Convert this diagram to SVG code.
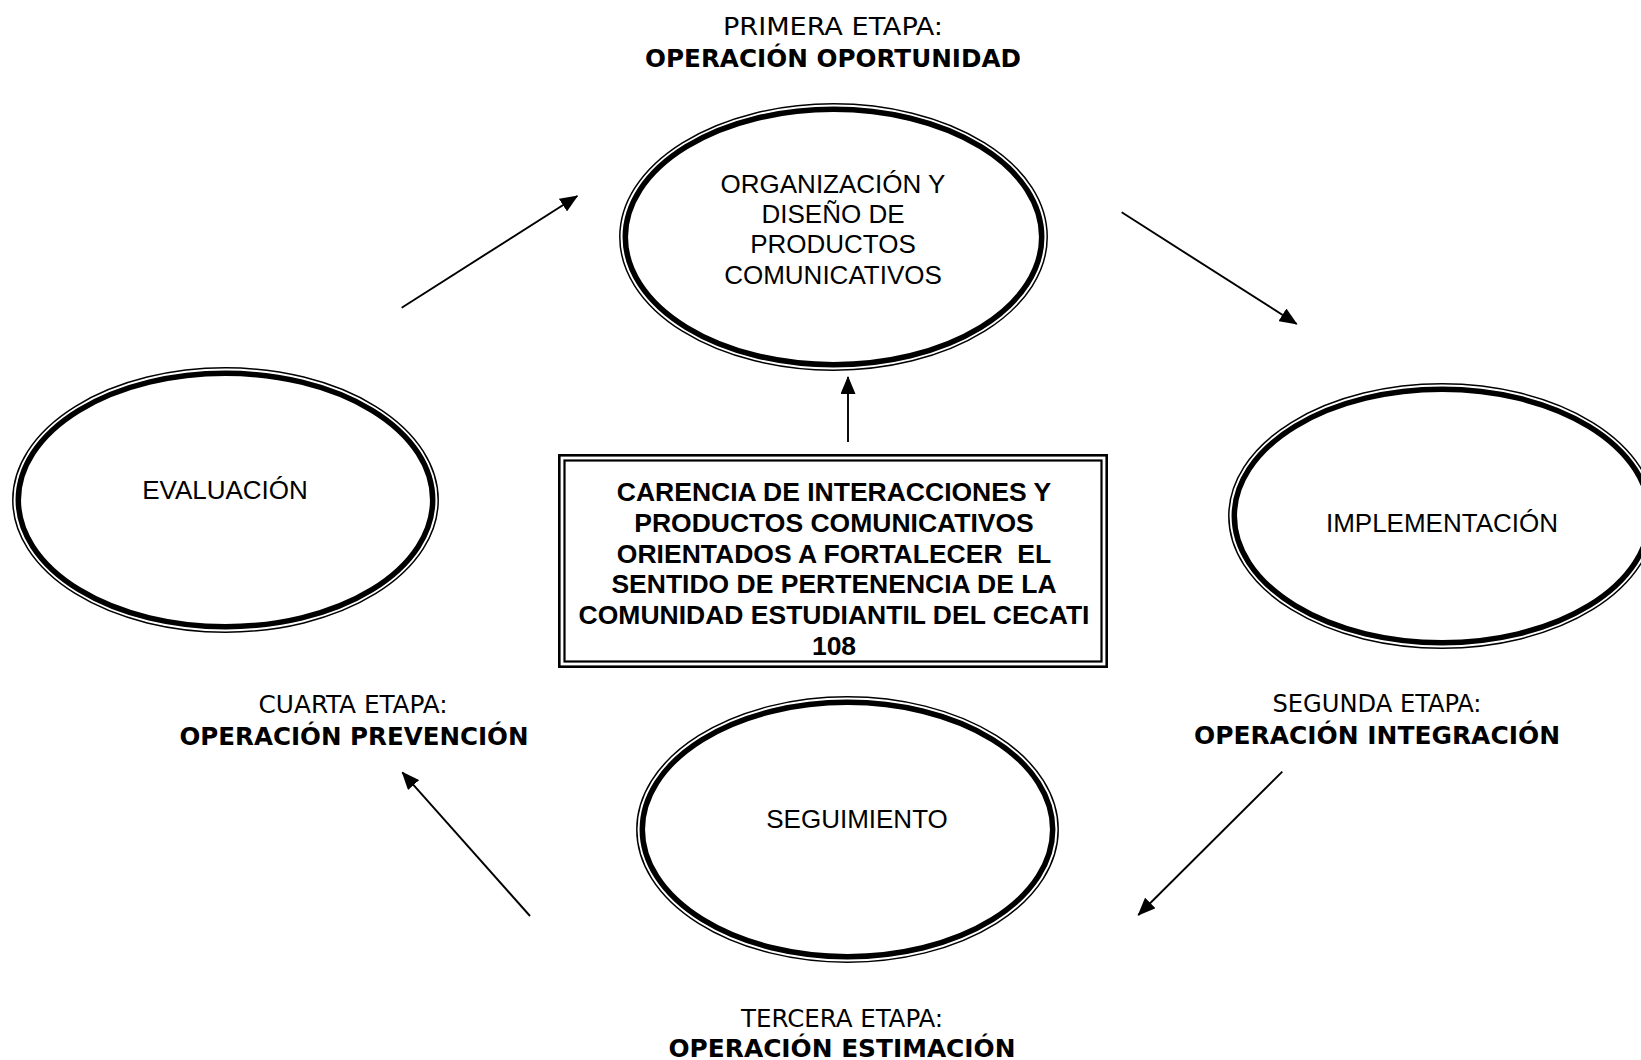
<svg xmlns="http://www.w3.org/2000/svg" width="1641" height="1060" viewBox="0 0 1641 1060">
  <style>
    .ring-thin { fill: none; stroke: #000; stroke-width: 1.5; }
    .ring-thick { fill: none; stroke: #000; stroke-width: 5.5; }
    .node-text { font-family: "Liberation Sans", Arial, sans-serif; font-size: 26px; fill: #000; text-anchor: middle; }
    .core-text { font-family: "Liberation Sans", Arial, sans-serif; font-size: 26.5px; font-weight: bold; fill: #000; text-anchor: middle; }
    .stage { font-family: "DejaVu Sans Condensed", "DejaVu Sans", sans-serif; font-size: 25px; fill: #000; text-anchor: middle; }
    .stage-name { font-family: "DejaVu Sans", sans-serif; font-size: 25px; font-weight: bold; fill: #000; text-anchor: middle; }
    .link { stroke: #000; stroke-width: 1.9; fill: none; marker-end: url(#head); }
  </style>
  <defs>
    <marker id="head" markerUnits="userSpaceOnUse" markerWidth="18" markerHeight="15" refX="17" refY="7.5" orient="auto">
      <path d="M0,0 L18,7.5 L0,15 z" fill="#000"/>
    </marker>
  </defs>
  <rect width="1641" height="1060" fill="#fff"/>

  <!-- stage labels -->
  <g id="label-primera">
    <text class="stage" x="833" y="35" textLength="220" lengthAdjust="spacingAndGlyphs">PRIMERA ETAPA:</text>
    <text class="stage-name" x="833" y="67" textLength="376" lengthAdjust="spacingAndGlyphs">OPERACIÓN OPORTUNIDAD</text>
  </g>
  <g id="label-segunda">
    <text class="stage" x="1377" y="712" textLength="209" lengthAdjust="spacingAndGlyphs">SEGUNDA ETAPA:</text>
    <text class="stage-name" x="1377" y="744" textLength="366" lengthAdjust="spacingAndGlyphs">OPERACIÓN INTEGRACIÓN</text>
  </g>
  <g id="label-tercera">
    <text class="stage" x="842" y="1027" textLength="202" lengthAdjust="spacingAndGlyphs">TERCERA ETAPA:</text>
    <text class="stage-name" x="842" y="1057" textLength="347" lengthAdjust="spacingAndGlyphs">OPERACIÓN ESTIMACIÓN</text>
  </g>
  <g id="label-cuarta">
    <text class="stage" x="353" y="713" textLength="189" lengthAdjust="spacingAndGlyphs">CUARTA ETAPA:</text>
    <text class="stage-name" x="354" y="745" textLength="349" lengthAdjust="spacingAndGlyphs">OPERACIÓN PREVENCIÓN</text>
  </g>

  <!-- ellipse nodes: thin outer ring plus thick inner ring -->
  <g id="node-organizacion">
    <ellipse class="ring-thin" cx="833.5" cy="237" rx="213.7" ry="133.2"/>
    <ellipse class="ring-thick" cx="833.5" cy="237" rx="208.2" ry="127.7"/>
    <text class="node-text" x="833" y="193">ORGANIZACIÓN Y</text>
    <text class="node-text" x="833" y="223">DISEÑO DE</text>
    <text class="node-text" x="833" y="253">PRODUCTOS</text>
    <text class="node-text" x="833" y="284">COMUNICATIVOS</text>
  </g>

  <g id="node-evaluacion">
    <ellipse class="ring-thin" cx="225.5" cy="500" rx="212.7" ry="132.2"/>
    <ellipse class="ring-thick" cx="225.5" cy="500" rx="207.2" ry="126.7"/>
    <text class="node-text" x="225" y="499">EVALUACIÓN</text>
  </g>

  <g id="node-implementacion">
    <ellipse class="ring-thin" cx="1442" cy="516" rx="213.2" ry="132.2"/>
    <ellipse class="ring-thick" cx="1442" cy="516" rx="207.7" ry="126.7"/>
    <text class="node-text" x="1442" y="532">IMPLEMENTACIÓN</text>
  </g>

  <g id="node-seguimiento">
    <ellipse class="ring-thin" cx="847.5" cy="829.5" rx="210.7" ry="132.7"/>
    <ellipse class="ring-thick" cx="847.5" cy="829.5" rx="205.2" ry="127.2"/>
    <text class="node-text" x="857" y="828">SEGUIMIENTO</text>
  </g>

  <!-- central problem statement, double frame -->
  <g id="node-carencia">
    <rect x="559.3" y="455.3" width="547.4" height="211.4" fill="#fff" stroke="#000" stroke-width="2.6"/>
    <rect x="564.5" y="460.5" width="537" height="201" fill="none" stroke="#000" stroke-width="2.2"/>
    <text class="core-text" x="834" y="501">CARENCIA DE INTERACCIONES Y</text>
    <text class="core-text" x="834" y="531.8">PRODUCTOS COMUNICATIVOS</text>
    <text class="core-text" x="834" y="562.6" xml:space="preserve">ORIENTADOS A FORTALECER  EL</text>
    <text class="core-text" x="834" y="593.4">SENTIDO DE PERTENENCIA DE LA</text>
    <text class="core-text" x="834" y="624.2">COMUNIDAD ESTUDIANTIL DEL CECATI</text>
    <text class="core-text" x="834" y="655">108</text>
  </g>

  <!-- connectors -->
  <g id="connectors">
    <line class="link" x1="401.7" y1="307.7" x2="577.3" y2="196"/>
    <line class="link" x1="1121.7" y1="212.3" x2="1296.7" y2="324"/>
    <line class="link" x1="1282.3" y1="771.7" x2="1138.3" y2="915"/>
    <line class="link" x1="530" y1="916" x2="402.3" y2="772.3"/>
    <line class="link" x1="848" y1="442" x2="848" y2="377"/>
  </g>
</svg>
